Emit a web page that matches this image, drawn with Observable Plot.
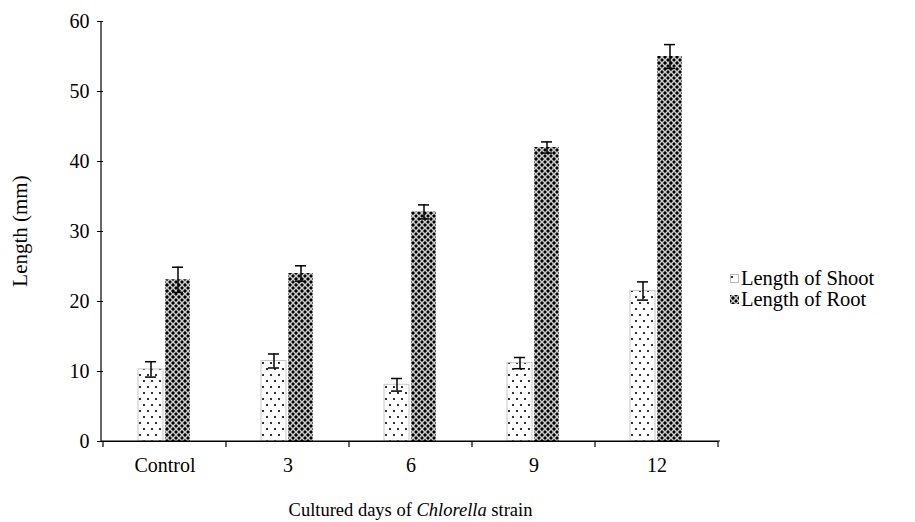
<!DOCTYPE html>
<html>
<head>
<meta charset="utf-8">
<script src="https://cdn.jsdelivr.net/npm/d3@7"></script>
<script src="https://cdn.jsdelivr.net/npm/@observablehq/plot@0.6"></script>
<style>
  html, body { margin: 0; padding: 0; background: #fff; }
  #wrap { position: relative; width: 915px; height: 522px; font-family: "Liberation Serif", "Times New Roman", serif; }
  #legend { position: absolute; left: 730px; top: 268px; font-size: 20.5px; line-height: 21px; color: #000; }
  #legend .item { display: flex; align-items: center; height: 21px; white-space: nowrap; }
  #legend svg { margin-right: 2px; }
</style>
</head>
<body>
<svg width="0" height="0" style="position:absolute">
  <defs>
    <pattern id="pShoot" patternUnits="userSpaceOnUse" width="8" height="12">
      <rect width="8" height="12" fill="#fff"/>
      <circle cx="2" cy="3" r="1.1" fill="#000"/>
      <circle cx="6" cy="9" r="1.1" fill="#000"/>
    </pattern>
    <pattern id="pRoot" patternUnits="userSpaceOnUse" width="6" height="6">
      <rect width="6" height="6" fill="#fff"/>
      <path d="M0,3H6M3,0V6" stroke="#999" stroke-width="1"/>
      <circle cx="3" cy="3" r="1.7" fill="#000"/>
      <circle cx="0" cy="0" r="1.7" fill="#000"/>
      <circle cx="6" cy="0" r="1.7" fill="#000"/>
      <circle cx="0" cy="6" r="1.7" fill="#000"/>
      <circle cx="6" cy="6" r="1.7" fill="#000"/>
    </pattern>
  </defs>
</svg>
<div id="wrap">
  <div id="chart"></div>
  <div id="legend">
    <div class="item"><svg width="9" height="9"><rect x="0.5" y="0.5" width="8" height="8" fill="url(#pShoot)" stroke="#bbb"/></svg>Length of Shoot</div>
    <div class="item"><svg width="9" height="9"><rect x="0" y="0" width="9" height="9" fill="url(#pRoot)"/></svg>Length of Root</div>
  </div>
</div>
<script>
const categories = ["Control", "3", "6", "9", "12"];
const seriesNames = ["Length of Shoot", "Length of Root"];
const shootValues = [10.3, 11.5, 8.1, 11.2, 21.5];
const shootErrors = [1.1, 1.0, 0.9, 0.8, 1.3];
const rootValues = [23.1, 24.0, 32.8, 42.0, 55.0];
const rootErrors = [1.8, 1.1, 1.0, 0.8, 1.7];
const yTicks = [0, 10, 20, 30, 40, 50, 60];

const data = [];
categories.forEach((c, i) => {
  data.push({day: c, series: seriesNames[0], value: shootValues[i], err: shootErrors[i]});
  data.push({day: c, series: seriesNames[1], value: rootValues[i], err: rootErrors[i]});
});
const shoot = data.filter(d => d.series === seriesNames[0]);
const root = data.filter(d => d.series === seriesNames[1]);

const W = 915, H = 522;
const plot = Plot.plot({
  width: W,
  height: H,
  marginLeft: 101,
  marginRight: 195,
  marginTop: 21,
  marginBottom: 81,
  style: {fontFamily: "'Liberation Serif', 'Times New Roman', serif", fontSize: "20px", color: "#000", background: "#fff"},
  fx: {domain: categories, padding: 0, label: null},
  x: {domain: seriesNames, paddingInner: 0.0714, paddingOuter: 1.25, axis: null},
  y: {domain: [0, 60], label: null},
  marks: [
    Plot.axisY({ticks: yTicks, tickSize: 6, tickPadding: 8, fontSize: 20, label: null}),
    Plot.axisFx({anchor: "bottom", tickSize: 0, tickPadding: 16, fontSize: 20, label: null}),
    Plot.barY(shoot, {fx: "day", x: "series", y: "value", fill: "url(#pShoot)", stroke: "#c8c8c8", strokeWidth: 1}),
    Plot.barY(root, {fx: "day", x: "series", y: "value", fill: "url(#pRoot)"}),
    Plot.ruleX(data, {fx: "day", x: "series", y1: d => d.value - d.err, y2: d => d.value + d.err, stroke: "#000", strokeWidth: 1.5}),
    Plot.tickY(data, {fx: "day", x: "series", y: d => d.value + d.err, stroke: "#000", strokeWidth: 1.5, insetLeft: 7, insetRight: 7}),
    Plot.tickY(data, {fx: "day", x: "series", y: d => d.value - d.err, stroke: "#000", strokeWidth: 1.5, insetLeft: 7, insetRight: 7}),
    Plot.ruleY([0], {stroke: "#000", strokeWidth: 1.2})
  ]
});
document.getElementById("chart").appendChild(plot);

// axis lines, boundary ticks and titles drawn with the plot's own scales
const svg = d3.select(plot);
const fx = plot.scale("fx");
const y = plot.scale("y");
const x0 = fx.range[0], x1 = fx.range[1];
const y0 = y.apply(0), yTop = y.apply(60);
const g = svg.append("g").attr("stroke", "#000").attr("stroke-width", 1.2);
g.append("line").attr("x1", x0).attr("x2", x0).attr("y1", y0).attr("y2", yTop);
g.append("line").attr("x1", x0).attr("x2", x1).attr("y1", y0).attr("y2", y0);
const bounds = categories.map(c => fx.apply(c)).concat([fx.apply(categories[categories.length - 1]) + fx.bandwidth]);
bounds.forEach(b => g.append("line").attr("x1", b).attr("x2", b).attr("y1", y0).attr("y2", y0 + 6));

const xl = svg.append("text")
  .attr("x", (x0 + x1) / 2).attr("y", 516)
  .attr("text-anchor", "middle")
  .attr("font-size", 18.5)
  .attr("fill", "#000");
xl.append("tspan").text("Cultured days of ");
xl.append("tspan").attr("font-style", "italic").text("Chlorella");
xl.append("tspan").text(" strain");

svg.append("text")
  .attr("transform", `translate(27,${(y0 + yTop) / 2}) rotate(-90)`)
  .attr("text-anchor", "middle")
  .attr("font-size", 21)
  .attr("fill", "#000")
  .text("Length (mm)");
</script>
</body>
</html>
